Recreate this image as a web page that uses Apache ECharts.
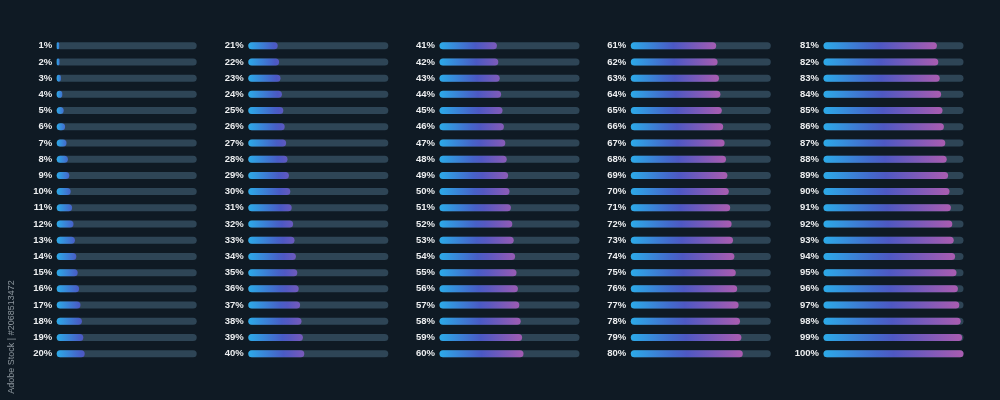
<!DOCTYPE html>
<html>
<head>
<meta charset="utf-8">
<script src="https://cdn.jsdelivr.net/npm/echarts@6/dist/echarts.min.js"></script>
<style>
html,body{margin:0;padding:0;background:#0f1a24;}
#c{width:1000px;height:400px;}
</style>
</head>
<body>
<div id="c"></div>
<script>
// ---- data ----
const col1Values = [1,2,3,4,5,6,7,8,9,10,11,12,13,14,15,16,17,18,19,20];
const col2Values = [21,22,23,24,25,26,27,28,29,30,31,32,33,34,35,36,37,38,39,40];
const col3Values = [41,42,43,44,45,46,47,48,49,50,51,52,53,54,55,56,57,58,59,60];
const col4Values = [61,62,63,64,65,66,67,68,69,70,71,72,73,74,75,76,77,78,79,80];
const col5Values = [81,82,83,84,85,86,87,88,89,90,91,92,93,94,95,96,97,98,99,100];
const col1Labels = ['1%','2%','3%','4%','5%','6%','7%','8%','9%','10%','11%','12%','13%','14%','15%','16%','17%','18%','19%','20%'];
const col2Labels = ['21%','22%','23%','24%','25%','26%','27%','28%','29%','30%','31%','32%','33%','34%','35%','36%','37%','38%','39%','40%'];
const col3Labels = ['41%','42%','43%','44%','45%','46%','47%','48%','49%','50%','51%','52%','53%','54%','55%','56%','57%','58%','59%','60%'];
const col4Labels = ['61%','62%','63%','64%','65%','66%','67%','68%','69%','70%','71%','72%','73%','74%','75%','76%','77%','78%','79%','80%'];
const col5Labels = ['81%','82%','83%','84%','85%','86%','87%','88%','89%','90%','91%','92%','93%','94%','95%','96%','97%','98%','99%','100%'];
const sideNote = 'Adobe Stock | #2068513472';

const columns = [
  {values: col1Values, labels: col1Labels},
  {values: col2Values, labels: col2Labels},
  {values: col3Values, labels: col3Labels},
  {values: col4Values, labels: col4Labels},
  {values: col5Values, labels: col5Labels}
];

// ---- layout / style ----
const gridLefts = [56.7, 248.3, 439.5, 630.8, 823.5];
const trackW = 140;
const gridTop = 37.6, gridH = 324.2;
const palette = [
  [0, [44, 170, 232]],
  [0.48, [74, 88, 196]],
  [1, [170, 92, 176]]
];
function colAt(t) {
  t = Math.max(0, Math.min(1, t));
  for (let k = 0; k < palette.length - 1; k++) {
    const a = palette[k], b = palette[k + 1];
    if (t <= b[0]) {
      const u = (t - a[0]) / (b[0] - a[0]);
      const c = a[1].map((v, j) => Math.round(v + (b[1][j] - v) * u));
      return 'rgb(' + c.join(',') + ')';
    }
  }
  return 'rgb(' + palette[palette.length - 1][1].join(',') + ')';
}
function fillGradient(v) {
  const f = v / 100;
  const tEnd = Math.min(1, 0.3 + f * 1.1);
  const cs = [];
  const n = 8;
  for (let k = 0; k <= n; k++) {
    const s = k / n;
    cs.push({offset: s, color: colAt(s * tEnd)});
  }
  return {type: 'linear', x: 0, y: 0, x2: 1, y2: 0, colorStops: cs};
}

const grids = [], xAxes = [], yAxes = [], series = [];
columns.forEach((col, i) => {
  const left = gridLefts[i];
  grids.push({left: left, top: gridTop, width: trackW, height: gridH, containLabel: false});
  xAxes.push({type: 'value', gridIndex: i, min: 0, max: 100, show: false});
  yAxes.push({
    type: 'category', gridIndex: i, inverse: true, data: col.labels,
    axisLine: {show: false}, axisTick: {show: false}, splitLine: {show: false},
    axisLabel: {
      margin: 4.5, color: '#eceef0', fontSize: 9.5, fontWeight: 'bold',
      fontFamily: '"Liberation Sans Narrow", "Arial Narrow", "Liberation Sans", Arial, sans-serif'
    }
  });
  series.push({
    type: 'bar', xAxisIndex: i, yAxisIndex: i,
    data: col.values.map(v => ({value: v, itemStyle: {color: fillGradient(v)}})),
    barWidth: 7,
    barMinHeight: 2.5,
    showBackground: true,
    backgroundStyle: {color: '#2e4556', borderRadius: 3.5},
    itemStyle: {borderRadius: 3.5},
    silent: true,
    animation: false
  });
});

const chart = echarts.init(document.getElementById('c'), null, {renderer: 'canvas'});
chart.setOption({
  backgroundColor: '#0f1a24',
  animation: false,
  grid: grids, xAxis: xAxes, yAxis: yAxes, series: series,
  graphic: [{
    type: 'text', x: 12, y: 337, rotation: Math.PI / 2,
    style: {
      text: sideNote, fill: '#8d979e', fontSize: 9,
      fontFamily: '"Liberation Sans", Arial, sans-serif',
      align: 'center', verticalAlign: 'middle'
    }
  }]
});
</script>
</body>
</html>
